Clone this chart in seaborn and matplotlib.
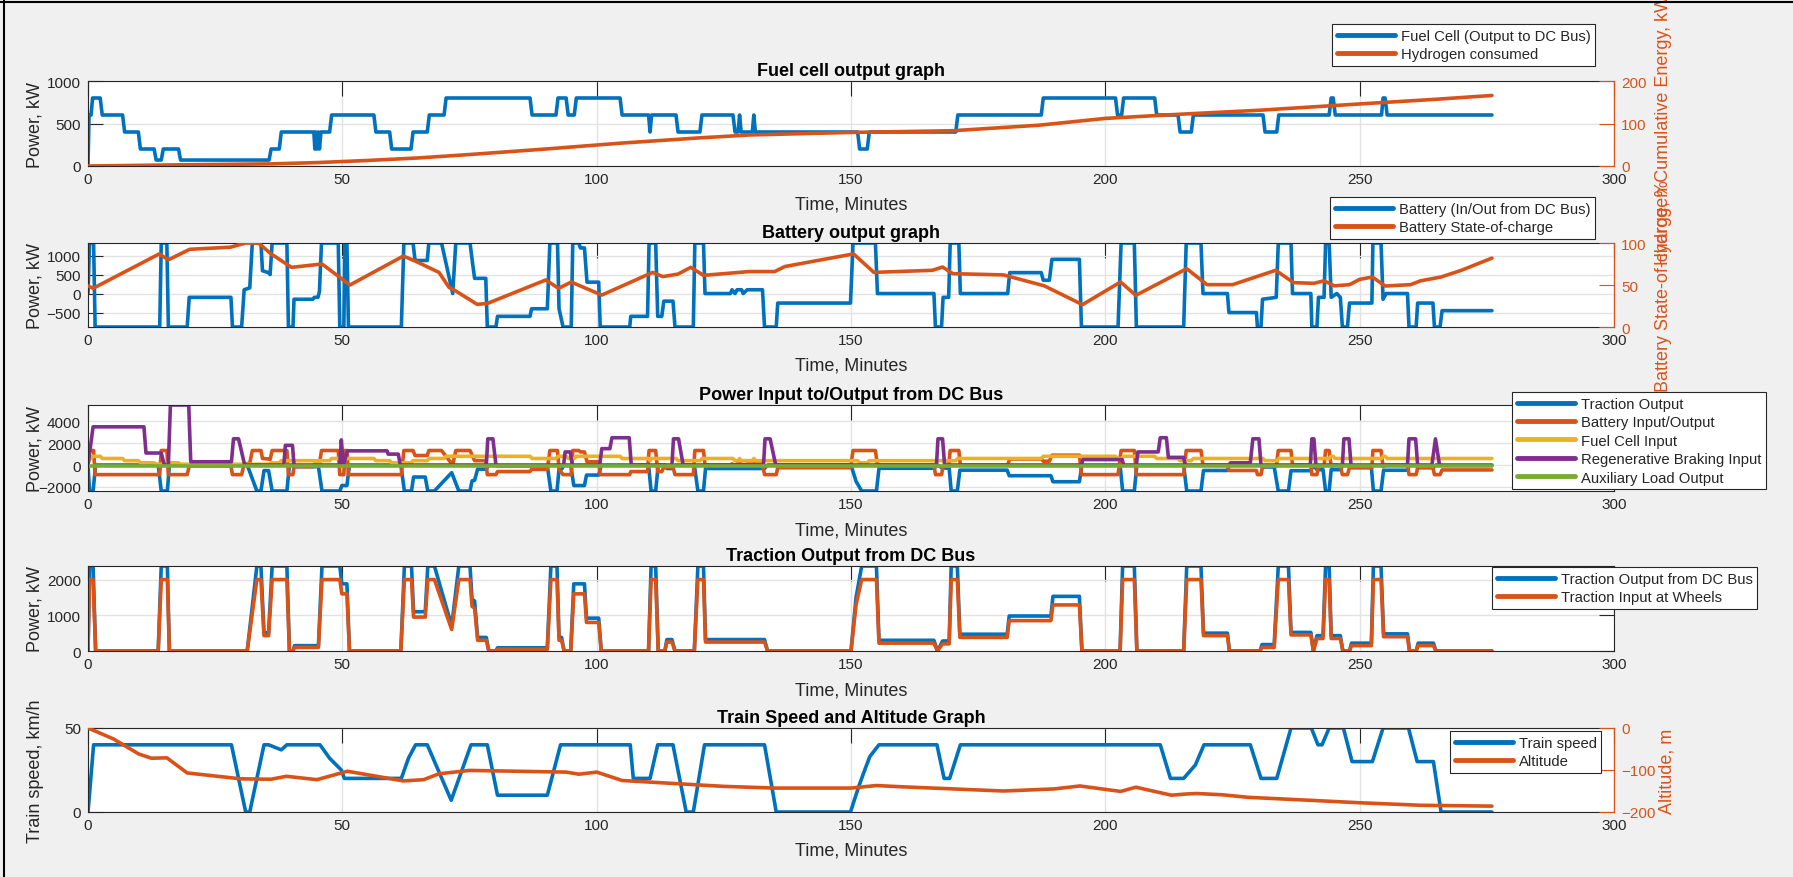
import matplotlib
matplotlib.use("Agg")
import matplotlib.pyplot as plt
import seaborn as sns
from matplotlib.lines import Line2D

# ---------------- data (time in minutes) ----------------
time_ticks = [0, 50, 100, 150, 200, 250, 300]

fc_time = [0, 0.2, 0.6, 0.9, 2.4, 2.8, 6.8, 7.2, 9.9, 10.3,
           13.0, 13.4, 14.4, 14.8, 17.8, 18.2, 35.6, 36.0, 37.6, 38.0,
           44.4, 44.6, 44.8, 45.0, 45.3, 45.5, 45.8, 47.5, 47.9, 56.2,
           56.6, 59.3, 59.7, 63.5, 63.9, 66.7, 67.1, 70.0, 70.4, 86.9,
           87.3, 92.0, 92.4, 94.0, 94.4, 95.6, 96.0, 104.6, 105.0, 110.2,
           110.5, 110.8, 115.6, 116.0, 120.3, 120.7, 126.8, 127.2, 127.8, 128.1,
           128.4, 130.6, 130.9, 131.2, 151.3, 151.7, 153.2, 153.6, 170.6, 171.0,
           187.4, 187.8, 202.0, 202.4, 203.2, 203.6, 209.7, 210.1, 214.3, 214.7,
           216.9, 217.3, 231.0, 231.4, 233.7, 234.1, 244.0, 244.4, 244.8, 245.2,
           254.3, 254.6, 255.0, 255.4, 276.0]
fc_kw = [0, 600, 600, 800, 800, 600, 600, 400, 400, 200,
         200, 70, 70, 200, 200, 70, 70, 200, 200, 400,
         400, 200, 400, 200, 400, 200, 400, 400, 600, 600,
         400, 400, 200, 200, 400, 400, 600, 600, 800, 800,
         600, 600, 800, 800, 600, 600, 800, 800, 600, 600,
         400, 600, 600, 400, 400, 600, 600, 400, 400, 600,
         400, 400, 600, 400, 400, 200, 200, 400, 400, 600,
         600, 800, 800, 600, 600, 800, 800, 600, 600, 400,
         400, 600, 600, 400, 400, 600, 600, 800, 800, 600,
         600, 800, 800, 600, 600]

h2_time = [0, 10, 20, 36, 45, 55, 65, 75, 90, 105, 120, 130, 150, 170, 187, 200, 215, 230, 250, 265, 276]
h2_energy = [0, 1.5, 3, 5, 8, 13, 19, 27, 40, 54, 66, 73, 79, 83, 96, 112, 122, 131, 146, 157, 166]

battery_pts = [(0, 0), (0.3, 1330), (1.1, 1330), (1.4, -880), (14.1, -880), (14.4, 1330), (15.5, 1330),
               (15.8, -880), (19.5, -880), (19.9, -100), (28.1, -100), (28.4, -880), (30.2, -880),
               (30.7, 100), (31.8, 150), (32.3, 1330), (34.0, 1330), (34.3, 600), (35.5, 550), (35.8, 500),
               (36.2, 1330), (39.1, 1330), (39.4, -880), (40.3, -880), (40.5, -150), (44.2, -150),
               (44.5, -100), (45.2, -100), (45.5, 50), (45.9, 1330), (49.2, 1330), (49.5, -880),
               (50.3, -880), (50.5, 1330), (50.9, 1330), (51.2, -880), (61.6, -880), (62.1, 1330),
               (63.9, 1330), (64.3, 870), (66.7, 870), (67.0, 1330), (69.5, 1330), (71.7, 0), (72.3, 1330),
               (75.1, 1330), (75.6, 800), (76.0, 400), (78.2, 400), (78.5, -880), (80.2, -880),
               (80.5, -600), (86.9, -600), (87.2, -400), (90.3, -400), (90.8, 1330), (92.3, 1330),
               (92.6, -400), (93.4, -880), (95.0, -880), (95.3, 1330), (96.5, 1330), (96.8, 1200),
               (97.6, 1200), (98.1, 300), (100.4, 300), (100.7, -880), (106.5, -880), (106.7, -600),
               (110.0, -600), (110.3, 1330), (111.6, 1330), (112.0, -600), (112.8, -600), (113.2, -200),
               (115.0, -200), (115.4, -880), (119.0, -880), (119.3, 1330), (121.0, 1330), (121.3, 0),
               (126.3, 0), (126.6, 100), (127.2, 0), (127.6, 100), (128.5, 100), (128.8, 0), (129.6, 100),
               (132.6, 100), (133.0, -880), (135.3, -880), (135.6, -250), (149.9, -250), (150.4, 1330),
               (154.8, 1330), (155.2, 0), (166.3, 0), (166.6, -880), (167.8, -880), (168.1, -100),
               (169.2, -100), (169.5, 1330), (171.2, 1330), (171.5, 0), (180.8, 0), (181.2, 550),
               (187.4, 550), (187.8, 350), (189.0, 350), (189.5, 900), (194.9, 900), (195.3, -880),
               (202.5, -880), (203.1, 1330), (205.7, 1330), (206.1, -880), (215.4, -880), (215.9, 1330),
               (218.8, 1330), (219.2, 0), (224.0, 0), (224.3, -500), (229.7, -500), (229.9, -880),
               (230.6, -880), (230.9, -150), (233.6, -100), (234.0, 1330), (236.5, 1330), (236.8, 0),
               (240.4, 0), (240.6, -880), (241.6, -880), (241.9, -100), (243.0, -100), (243.3, 1330),
               (244.0, 1330), (244.4, -100), (245.5, 0), (246.2, -100), (246.6, -880), (247.6, -880),
               (248.0, -250), (252.4, -250), (252.6, 1330), (254.2, 1330), (254.6, -150), (255.2, 0),
               (259.4, 0), (259.7, -880), (261.1, -880), (261.4, -250), (264.4, -250), (264.7, -880),
               (265.8, -880), (266.2, -450), (276, -450)]

soc_pts = [(0, 49), (1, 46), (14, 87), (15.8, 80), (20, 92.5), (28, 95), (31, 100), (33.5, 100), (36, 87),
           (40, 71), (46, 75), (51.5, 50), (62, 84.5), (64.5, 78), (69, 65), (71, 47), (72, 44), (76.5, 27),
           (78.5, 28), (90, 56), (92.5, 46), (95, 53.5), (101, 38), (111, 65), (113, 60), (116, 63),
           (118.5, 71), (121, 61.5), (130, 66), (135, 66), (137, 72), (150.5, 87), (154.5, 65), (166, 67.5),
           (168, 71.4), (170, 63.5), (180, 62), (188, 49), (195.5, 26.6), (203, 53.6), (206, 37.7),
           (216, 69.4), (220, 50.4), (225, 50.4), (233.5, 67.5), (237, 52.8), (241, 52), (243, 55),
           (245, 49), (248, 50.4), (250, 56.7), (252.5, 59.5), (255, 48.8), (260, 50.4), (262, 55),
           (266, 59.5), (270, 67.5), (276, 82)]

regen_pts = [(0, 0), (1, 3500), (11, 3500), (11.4, 1100), (14.4, 1100), (15, 0), (15.8, 0), (16.2, 5500),
             (19.8, 5500), (20.2, 300), (28.2, 300), (28.6, 2400), (29.6, 2400), (30.8, 0), (38.5, 0),
             (38.8, 1800), (40.2, 1800), (40.5, 0), (49.5, 0), (49.8, 2300), (50.2, 0), (51, 1300),
             (58.8, 1300), (59, 1000), (61, 1000), (61.4, 0), (78.3, 0), (78.6, 2400), (79.6, 2400),
             (80.2, 0), (93.5, 0), (93.8, 1200), (94.8, 1200), (95.2, 0), (100.6, 0), (101, 1500),
             (102.6, 1500), (103, 2500), (106.4, 2500), (106.8, 0), (114.8, 0), (115.1, 2400),
             (116.1, 2400), (117, 0), (132.8, 0), (133.1, 2400), (134.1, 2400), (135.2, 0), (166.8, 0),
             (167.1, 2400), (168, 2400), (168.4, 0), (195.3, 0), (195.6, 500), (203.3, 500), (203.6, 0),
             (206.1, 0), (206.4, 1200), (210.4, 1200), (210.8, 2500), (212, 2500), (212.4, 700),
             (215.4, 700), (215.7, 0), (224.3, 0), (224.6, 200), (228.5, 200), (229, 2400), (230.2, 2400),
             (230.6, 0), (240.3, 0), (240.6, 2400), (241, 2400), (241.4, 0), (246.6, 0), (246.9, 2400),
             (247.9, 2400), (248.3, 0), (259.4, 0), (259.7, 2400), (261, 2400), (261.4, 0), (264.2, 0),
             (264.9, 2400), (265.7, 0)]

aux_time = [0, 276]
aux_kw = [-100, -100]

# traction: (time, input at wheels, output from DC bus)
traction_pts = [(0, 0, 0), (0.3, 2000, 2380), (1.0, 2000, 2380), (1.5, 0, 0), (13.8, 0, 0),
                (14.4, 2000, 2380), (15.6, 2000, 2380), (16.0, 0, 0), (31.3, 0, 0), (33.2, 2000, 2380),
                (34.0, 2000, 2380), (34.6, 430, 510), (35.5, 430, 510), (36.2, 2000, 2380),
                (39.1, 2000, 2380), (39.6, 0, 0), (40.3, 0, 0), (40.6, 100, 150), (45.3, 100, 150),
                (46.0, 2000, 2380), (49.5, 2000, 2380), (49.9, 1600, 1880), (50.9, 1600, 1880),
                (51.4, 0, 0), (61.5, 0, 0), (62.2, 2000, 2380), (63.6, 2000, 2380), (64.0, 950, 1100),
                (66.3, 950, 1100), (66.8, 2000, 2380), (68.1, 2000, 2380), (71.5, 600, 700),
                (72.9, 2000, 2380), (75.1, 2000, 2380), (75.5, 1250, 1450), (76.0, 1200, 1400),
                (76.6, 300, 380), (78.3, 300, 380), (78.8, 0, 0), (80.2, 0, 0), (80.5, 50, 90),
                (90.3, 50, 90), (91.0, 2000, 2380), (92.2, 2000, 2380), (92.6, 300, 380), (93.1, 300, 380),
                (93.6, 0, 0), (94.9, 0, 0), (95.5, 1600, 1880), (97.6, 1600, 1880), (98.0, 800, 920),
                (100.4, 800, 920), (100.9, 0, 0), (110.2, 0, 0), (110.7, 2000, 2380), (111.6, 2000, 2380),
                (112.1, 0, 0), (113.4, 0, 0), (113.8, 250, 320), (114.8, 250, 320), (115.4, 0, 0),
                (119.2, 0, 0), (119.9, 2000, 2380), (121.0, 2000, 2380), (121.4, 250, 320),
                (133.0, 250, 320), (133.6, 0, 0), (150.0, 0, 0), (151.0, 1300, 1500), (152.1, 2000, 2380),
                (155.0, 2000, 2380), (155.5, 220, 300), (166.3, 220, 300), (167.0, 0, 0), (168.0, 200, 280),
                (169.3, 200, 280), (169.7, 2000, 2380), (170.9, 2000, 2380), (171.4, 380, 470),
                (180.7, 380, 470), (181.1, 850, 980), (189.3, 850, 980), (189.7, 1290, 1530),
                (194.9, 1290, 1530), (195.4, 0, 0), (202.9, 0, 0), (203.4, 2000, 2380), (205.7, 2000, 2380),
                (206.2, 0, 0), (215.4, 0, 0), (216.0, 2000, 2380), (218.8, 2000, 2380), (219.3, 430, 500),
                (224.0, 430, 500), (224.4, 0, 0), (230.4, 0, 0), (230.8, 100, 180), (233.2, 100, 180),
                (234.0, 2000, 2380), (236.0, 2000, 2380), (236.5, 450, 520), (240.4, 450, 520),
                (240.9, 0, 0), (241.6, 350, 430), (242.8, 350, 430), (243.3, 2000, 2380),
                (244.0, 2000, 2380), (244.4, 350, 430), (246.2, 350, 430), (246.7, 0, 0), (248.0, 0, 0),
                (248.4, 150, 220), (252.3, 150, 220), (252.7, 2000, 2380), (254.2, 2000, 2380),
                (254.7, 400, 480), (259.4, 400, 480), (259.8, 0, 0), (261.1, 0, 0), (261.5, 150, 220),
                (264.5, 150, 220), (265.0, 0, 0), (276.0, 0, 0)]

speed_pts = [(0, 0), (1.1, 40), (28.2, 40), (31.0, 0), (31.8, 0), (34.6, 40), (35.5, 40), (38.0, 37),
             (39.1, 40), (45.6, 40), (47.5, 32), (49.8, 25), (50.4, 20), (61.6, 20), (63.0, 32),
             (64.4, 40), (66.7, 40), (71.4, 7), (75.3, 40), (78.5, 40), (80.5, 10), (90.3, 10),
             (92.9, 40), (106.6, 40), (107.2, 20), (110.5, 20), (112.0, 40), (115.0, 40), (117.6, 0),
             (119.0, 0), (121.2, 40), (133.0, 40), (135.3, 0), (149.9, 0), (151.5, 15), (152.7, 25),
             (153.7, 33), (155.5, 40), (166.9, 40), (168.3, 20), (169.4, 20), (171.5, 40), (205.7, 40),
             (210.8, 40), (212.8, 20), (215.4, 20), (217.7, 28), (219.4, 40), (228.5, 40), (230.6, 20),
             (233.7, 20), (236.5, 50), (240.5, 50), (241.8, 40), (242.6, 40), (244.0, 50), (246.8, 50),
             (248.5, 30), (252.5, 30), (254.6, 50), (259.6, 50), (261.3, 30), (264.5, 30), (266.0, 0),
             (276.0, 0)]

alt_time = [0, 5, 10, 12.5, 15.5, 19.5, 30, 36, 39, 45, 51, 62, 66, 69, 75, 94, 96.5, 100, 105, 125, 135,
            150, 155, 160, 170, 180, 190, 195, 203, 206, 213, 216, 218, 223, 228, 240, 250, 262, 276]
alt_m = [0, -26, -62, -72, -71, -107, -121, -122, -115, -123, -103, -126, -123, -109, -101, -105, -110,
         -105, -125, -139, -143, -143, -137, -140, -145, -150, -145, -138, -151, -141, -160, -157, -156,
         -159, -165, -172, -178, -184, -186]

# ---------------- style ----------------
BLUE, ORANGE, YELLOW, PURPLE, GREEN = "#0072BD", "#D95319", "#EDB120", "#7E2F8E", "#77AC30"
DARK = "#262626"
BG = "#f0f0f0"
LW = 2.6

sns.set_theme(style="white")
plt.rcParams["font.family"] = ["Liberation Sans", "DejaVu Sans"]
plt.rcParams["axes.linewidth"] = 0.8

fig = plt.figure(figsize=(17.93, 8.78), dpi=100, facecolor=BG)
FW, FH = 1793, 878
L, W = 88 / FW, 1526 / FW


def make_ax(top_px, bot_px):
    return fig.add_axes([L, 1 - bot_px / FH, W, (bot_px - top_px) / FH])


def draw(ax, t, v, color, lw=LW):
    sns.lineplot(x=list(t), y=list(v), ax=ax, color=color, linewidth=lw,
                 sort=False, estimator=None, errorbar=None)


def style(ax, title, ylim, yticks, ylabel, right_ticks=True, height_px=85):
    ax.set_facecolor("white")
    ax.set_xlim(0, 300)
    ax.set_xticks(time_ticks)
    ax.set_ylim(*ylim)
    ax.set_yticks(yticks)
    ax.grid(True, color="#e2e2e2", linewidth=1.0)
    ax.set_axisbelow(True)
    ax.tick_params(axis="both", direction="in", length=10.5, width=0.8, colors=DARK,
                   labelsize=11, top=True, right=right_ticks)
    ax.tick_params(axis="x", pad=4)
    ax.tick_params(axis="y", pad=5)
    for s in ax.spines.values():
        s.set_color(DARK)
        s.set_linewidth(0.8)
    ax.set_title(title, fontsize=13, fontweight="bold", color="black", pad=4.3)
    ax.set_xlabel("Time, Minutes", fontsize=13, color=DARK)
    ax.xaxis.set_label_coords(0.5, -30 / height_px)
    ax.set_ylabel(ylabel, fontsize=13, color=DARK)
    ax.yaxis.set_label_coords(-44 / 1526, 0.5)


def style_right(ax2, ylim, yticks, ylabel, xpos=1.027):
    ax2.set_ylim(*ylim)
    ax2.set_yticks(yticks)
    ax2.grid(False)
    ax2.tick_params(axis="y", direction="in", length=10.5, width=0.8, colors=ORANGE,
                    labelsize=11, pad=5)
    for k, s in ax2.spines.items():
        s.set_visible(k == "right")
    ax2.spines["right"].set_color(ORANGE)
    ax2.set_ylabel(ylabel, fontsize=13, color=ORANGE)
    ax2.yaxis.set_label_coords(xpos, 0.5)


def legend(handles, labels, x_px, y_px):
    leg = fig.legend(handles, labels, loc="upper left",
                     bbox_to_anchor=(x_px / FW, 1 - y_px / FH), bbox_transform=fig.transFigure,
                     frameon=True, fancybox=False, framealpha=1, edgecolor=DARK, fontsize=10.7,
                     handlelength=3.9, handletextpad=0.4, borderpad=0.32, labelspacing=0.3,
                     borderaxespad=0)
    leg.get_frame().set_linewidth(0.8)
    return leg


def h(color):
    return Line2D([], [], color=color, linewidth=3.5)


def unzip(pts, i):
    return [p[i] for p in pts]


# ---------------- panel 1: fuel cell ----------------
ax1 = make_ax(82, 167)
draw(ax1, fc_time, fc_kw, BLUE)
style(ax1, "Fuel cell output graph", (0, 1000), [0, 500, 1000], "Power, kW", right_ticks=False)
ax1r = ax1.twinx()
draw(ax1r, h2_time, h2_energy, ORANGE)
style_right(ax1r, (0, 200), [0, 100, 200], "Hydrogen Cumulative Energy, kWh")
legend([h(BLUE), h(ORANGE)], ["Fuel Cell (Output to DC Bus)", "Hydrogen consumed"], 1332, 25)

# ---------------- panel 2: battery ----------------
ax2 = make_ax(244, 328)
draw(ax2, unzip(battery_pts, 0), unzip(battery_pts, 1), BLUE)
style(ax2, "Battery output graph", (-880, 1330), [-500, 0, 500, 1000], "Power, kW", right_ticks=False)
ax2r = ax2.twinx()
draw(ax2r, unzip(soc_pts, 0), unzip(soc_pts, 1), ORANGE)
style_right(ax2r, (0, 100), [0, 50, 100], "Battery State-of-charge, %")
legend([h(BLUE), h(ORANGE)], ["Battery (In/Out from DC Bus)", "Battery State-of-charge"], 1330, 198)

# ---------------- panel 3: DC bus ----------------
ax3 = make_ax(406, 492)
draw(ax3, unzip(traction_pts, 0), [-v for v in unzip(traction_pts, 2)], BLUE)
draw(ax3, unzip(battery_pts, 0), unzip(battery_pts, 1), ORANGE)
draw(ax3, fc_time, fc_kw, YELLOW)
draw(ax3, unzip(regen_pts, 0), unzip(regen_pts, 1), PURPLE)
draw(ax3, aux_time, aux_kw, GREEN)
style(ax3, "Power Input to/Output from DC Bus", (-2380, 5500), [-2000, 0, 2000, 4000], "Power, kW",
      height_px=86)
legend([h(BLUE), h(ORANGE), h(YELLOW), h(PURPLE), h(GREEN)],
       ["Traction Output", "Battery Input/Output", "Fuel Cell Input", "Regenerative Braking Input",
        "Auxiliary Load Output"], 1512, 393)

# ---------------- panel 4: traction ----------------
ax4 = make_ax(567, 652)
draw(ax4, unzip(traction_pts, 0), unzip(traction_pts, 2), BLUE)
draw(ax4, unzip(traction_pts, 0), unzip(traction_pts, 1), ORANGE)
style(ax4, "Traction Output from DC Bus", (0, 2380), [0, 1000, 2000], "Power, kW")
legend([h(BLUE), h(ORANGE)], ["Traction Output from DC Bus", "Traction Input at Wheels"], 1492, 568)

# ---------------- panel 5: speed & altitude ----------------
ax5 = make_ax(729, 813)
draw(ax5, unzip(speed_pts, 0), unzip(speed_pts, 1), BLUE)
style(ax5, "Train Speed and Altitude Graph", (0, 50), [0, 50], "Train speed, km/h", right_ticks=False,
      height_px=84)
ax5r = ax5.twinx()
draw(ax5r, alt_time, alt_m, ORANGE)
style_right(ax5r, (-200, 0), [-200, -100, 0], "Altitude, m", xpos=1.029)
legend([h(BLUE), h(ORANGE)], ["Train speed", "Altitude"], 1450, 732)

# window frame lines
fig.add_artist(Line2D([0, 1], [1 - 3 / FH, 1 - 3 / FH], transform=fig.transFigure, color="black", lw=1.5))
fig.add_artist(Line2D([4 / FW, 4 / FW], [0, 1], transform=fig.transFigure, color="black", lw=1.5))

fig.savefig("out.png", dpi=100, facecolor=BG)
